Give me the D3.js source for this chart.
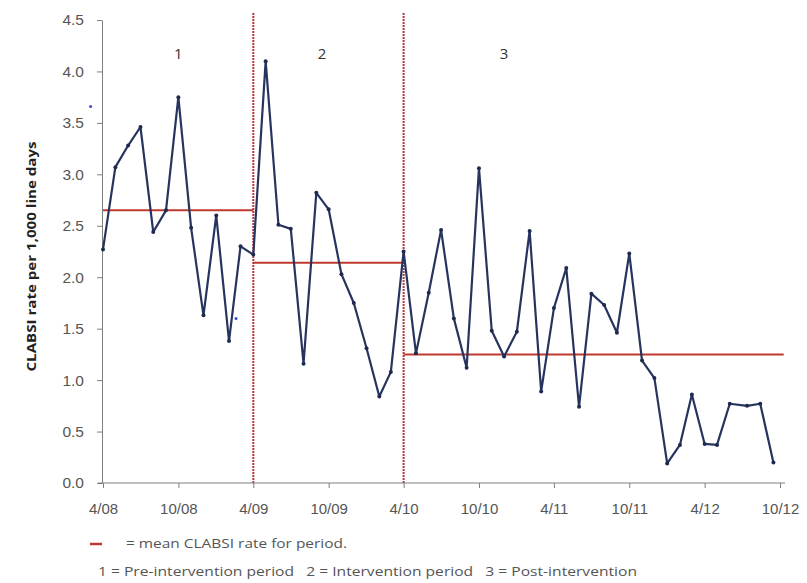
<!DOCTYPE html>
<html>
<head>
<meta charset="utf-8">
<script src="https://cdn.jsdelivr.net/npm/d3@7"></script>
<style>
    body { margin: 0; background: #fff; }
    svg { display: block; font-family: "Open Sans", "DejaVu Sans", sans-serif; }
</style>
</head>
<body>
<svg id="chart" width="807" height="583"></svg>
<script>
// sample months (the last three sit a little later in the month in the original)
const sampleDates = [
    "2008-04-01", "2008-05-01", "2008-06-01", "2008-07-01", "2008-08-01", "2008-09-01", "2008-10-01",
    "2008-11-01", "2008-12-01", "2009-01-01", "2009-02-01", "2009-03-01", "2009-04-01",
    "2009-05-01", "2009-06-01", "2009-07-01", "2009-08-01", "2009-09-01", "2009-10-01",
    "2009-11-01", "2009-12-01", "2010-01-01", "2010-02-01", "2010-03-01", "2010-04-01",
    "2010-05-01", "2010-06-01", "2010-07-01", "2010-08-01", "2010-09-01", "2010-10-01",
    "2010-11-01", "2010-12-01", "2011-01-01", "2011-02-01", "2011-03-01", "2011-04-01",
    "2011-05-01", "2011-06-01", "2011-07-01", "2011-08-01", "2011-09-01", "2011-10-01",
    "2011-11-01", "2011-12-01", "2012-01-01", "2012-02-01", "2012-03-01", "2012-04-01",
    "2012-05-01", "2012-06-01", "2012-07-13", "2012-08-14", "2012-09-15"
];

const clabsiRates = [
    2.27, 3.07, 3.28, 3.46, 2.44, 2.65, 3.75, 2.48, 1.63, 2.60, 1.38, 2.30, 2.22,
    4.10, 2.51, 2.47, 1.16, 2.82, 2.66, 2.03, 1.75, 1.31, 0.84, 1.08, 2.25,
    1.26, 1.85, 2.46, 1.60, 1.12, 3.06, 1.48, 1.23, 1.47, 2.45, 0.89, 1.70,
    2.09, 0.74, 1.84, 1.73, 1.46, 2.23, 1.19, 1.02, 0.19, 0.37, 0.86, 0.38,
    0.37, 0.77, 0.75, 0.77, 0.20
];

// period start / end and mean rate
const periodNames = ["1", "2", "3"];
const periodStarts = ["2008-04-01", "2009-04-01", "2010-04-01"];
const periodEnds = ["2009-04-01", "2010-04-01", "2012-10-10"];
const periodMeans = [2.65, 2.14, 1.25];
const periodLabelDates = ["2008-10-01", "2009-09-15", "2010-12-01"];

const interventionDates = ["2009-04-01", "2010-04-01"];

const xTickDates = ["2008-04-01", "2008-10-01", "2009-04-01", "2009-10-01", "2010-04-01",
    "2010-10-01", "2011-04-01", "2011-10-01", "2012-04-01", "2012-10-01"];
const yTickValues = [0, 0.5, 1, 1.5, 2, 2.5, 3, 3.5, 4, 4.5];

// two stray blue specks visible in the source image
const strayDates = ["2008-03-02", "2009-02-18"];
const strayValues = [3.66, 1.60];

const legendLines = [
    "= mean CLABSI rate for period.",
    "1 = Pre-intervention period   2 = Intervention period   3 = Post-intervention"
];

const parseDate = d3.timeParse("%Y-%m-%d");

let svg = d3.select("#chart");

let x = d3.scaleTime()
    .domain([parseDate("2008-04-01"), parseDate("2012-10-01")])
    .range([103, 780]);
let y = d3.scaleLinear()
    .domain([0, 4.5])
    .range([483, 20]);

function drawAxes() {
    let yAxis = d3.axisLeft(y)
        .tickValues(yTickValues)
        .tickFormat(d3.format(".1f"))
        .tickSize(5)
        .tickPadding(13)
        .tickSizeOuter(0);
    let yG = svg.append('g')
        .attr("transform", `translate(${x.range()[0] - 1},0)`)
        .call(yAxis);
    yG.select('.domain').attr('stroke', '#7f7f7f');
    yG.selectAll('.tick line').attr('stroke', '#7f7f7f');
    yG.selectAll('.tick text')
        .attr('fill', '#555')
        .style('font-size', '15.5px');

    let xAxis = d3.axisBottom(x)
        .tickValues(xTickDates.map(parseDate))
        .tickFormat(d3.timeFormat("%-m/%y"))
        .tickSize(5)
        .tickPadding(15)
        .tickSizeOuter(0);
    let xG = svg.append('g')
        .attr("transform", `translate(0,${y(0)})`)
        .call(xAxis);
    xG.select('.domain').remove();
    xG.append('line')
        .attr('x1', x.range()[0] - 5)
        .attr('x2', x.range()[1] + 5)
        .attr('stroke', '#7f7f7f');
    xG.selectAll('.tick line').attr('stroke', '#7f7f7f');
    xG.selectAll('.tick text')
        .attr('fill', '#555')
        .style('font-size', '15px');

    svg.append('text')
        .attr('transform', `translate(36,${(y(0) + y(4.5)) / 2 + 5}) rotate(-90)`)
        .attr('text-anchor', 'middle')
        .attr('fill', '#222')
        .attr('textLength', 230)
        .attr('lengthAdjust', 'spacingAndGlyphs')
        .style('font-size', '13px')
        .style('font-weight', 'bold')
        .text("CLABSI rate per 1,000 line days");
}

function drawPeriods() {
    svg.append('g').selectAll('line')
        .data(interventionDates)
        .join('line')
        .attr('x1', d => x(parseDate(d)))
        .attr('x2', d => x(parseDate(d)))
        .attr('y1', 13)
        .attr('y2', y(0))
        .attr('stroke', '#b8353a')
        .attr('stroke-width', 2)
        .attr('stroke-dasharray', '2,1');

    let periods = periodNames.map((name, i) => ({
        name,
        start: parseDate(periodStarts[i]),
        end: parseDate(periodEnds[i]),
        mean: periodMeans[i],
        labelAt: parseDate(periodLabelDates[i])
    }));

    svg.append('g').selectAll('line')
        .data(periods)
        .join('line')
        .attr('x1', d => x(d.start))
        .attr('x2', d => x(d.end))
        .attr('y1', d => y(d.mean))
        .attr('y2', d => y(d.mean))
        .attr('stroke', '#c0392f')
        .attr('stroke-width', 2);

    svg.append('g').selectAll('text')
        .data(periods)
        .join('text')
        .attr('x', d => x(d.labelAt))
        .attr('y', 59)
        .attr('text-anchor', 'middle')
        .attr('fill', '#333')
        .style('font-size', '15px')
        .text(d => d.name);
}

function drawSeries() {
    let points = sampleDates.map((d, i) => ({ date: parseDate(d), val: clabsiRates[i] }));

    let line = d3.line()
        .x(d => x(d.date))
        .y(d => y(d.val));

    svg.append('path')
        .datum(points)
        .attr('d', line)
        .attr('fill', 'none')
        .attr('stroke', '#26345e')
        .attr('stroke-width', 2.2)
        .attr('stroke-linejoin', 'round');

    svg.append('g').selectAll('circle')
        .data(points)
        .join('circle')
        .attr('cx', d => x(d.date))
        .attr('cy', d => y(d.val))
        .attr('r', 2)
        .attr('fill', '#1e2a50');

    svg.append('g').selectAll('circle')
        .data(strayDates.map((d, i) => ({ date: parseDate(d), val: strayValues[i] })))
        .join('circle')
        .attr('cx', d => x(d.date))
        .attr('cy', d => y(d.val))
        .attr('r', 1.5)
        .attr('fill', '#3b4ad0');
}

function drawLegend() {
    svg.append('line')
        .attr('x1', 90)
        .attr('x2', 102)
        .attr('y1', 544)
        .attr('y2', 544)
        .attr('stroke', '#c0392f')
        .attr('stroke-width', 2.5);

    svg.append('text')
        .attr('x', 126)
        .attr('y', 548)
        .attr('fill', '#555')
        .attr('textLength', 221)
        .attr('lengthAdjust', 'spacingAndGlyphs')
        .style('font-size', '13px')
        .text(legendLines[0]);

    svg.append('text')
        .attr('x', 98)
        .attr('y', 576)
        .attr('fill', '#555')
        .attr('textLength', 539)
        .attr('lengthAdjust', 'spacingAndGlyphs')
        .style('font-size', '13px')
        .style('white-space', 'pre')
        .attr('xml:space', 'preserve')
        .text(legendLines[1]);
}

drawPeriods();
drawAxes();
drawSeries();
drawLegend();
</script>
</body>
</html>
